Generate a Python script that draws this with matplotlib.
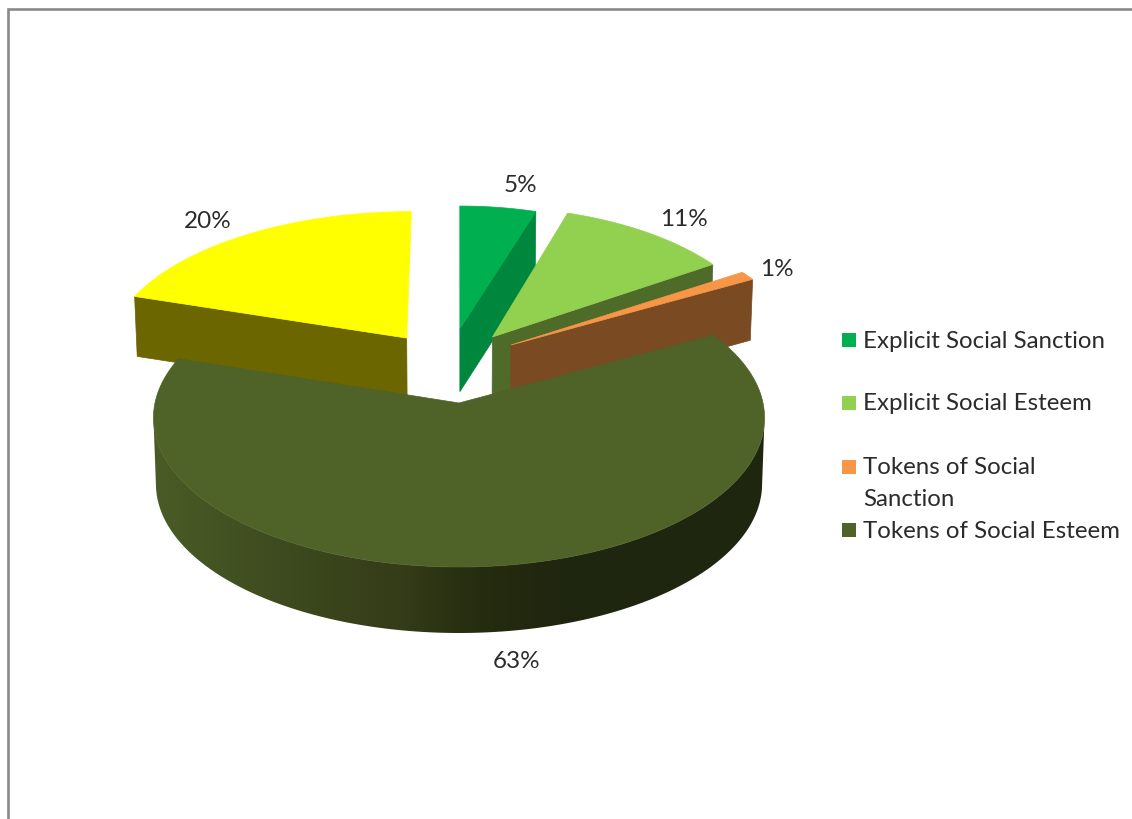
import numpy as np
import matplotlib
matplotlib.use("Agg")
import matplotlib.pyplot as plt
from matplotlib.patches import Polygon

legend_lines = ["Explicit Social Sanction", "Explicit Social Esteem", "Tokens of Social\nSanction", "Tokens of Social Esteem"]
values = [5, 11, 1, 63, 20]

top_colors = ["#00B050", "#92D050", "#F79646", "#4F6228", "#FFFF00"]
wall_colors = ["#00873E", "#4F6B29", "#7A4A22", "#4F6228", "#6B6600"]
label_pos = [(520, 186), (684, 220), (777, 269), (517, 662), (208, 221)]

# explode offset and radius scale of each slice on the pie's plane
offsets = [(0.003, 0.53), (0.115, 0.468), (0.178, 0.409), (0.0, 0.0), (-0.18, 0.46)]
scales = [(0.93, 1.01), (0.955, 1.06), (1.0, 1.05), (1.0, 1.0), (1.02, 1.03)]
depths = [63, 60, 61, 66, 60]
wall_edge = [1, 1, 1, None, 0]   # which radial edge shows its side
draw_order = [0, 1, 2, 4, 3]

# simple perspective for the tilted disc
cx, cy = 459, 403
k = 0.1
A = 304
B = 147.6
shrink = 0.008


def project(u, v):
    d = 1 + k * v
    return cx + A * u / d, cy - B * v / d


def lower(x, y, depth):
    return cx + (x - cx) * (1 - shrink), y + depth


def rim_gradient(x):
    xs = [152, 300, 400, 480, 560, 765]
    r = np.interp(x, xs, [74, 60, 52, 38, 32, 30])
    g = np.interp(x, xs, [92, 72, 60, 44, 38, 38])
    b = np.interp(x, xs, [38, 30, 24, 16, 15, 16])
    return np.dstack([r, g, b])[0] / 255


fig = plt.figure(figsize=(11.32, 8.19), dpi=100)
ax = fig.add_axes([0, 0, 1, 1])

# frame of the chart area
ax.plot([7.5, 7.5, 1132], [819, 9, 9], color="#8a8a8a", lw=1.9, solid_joinstyle="miter")

ends = np.cumsum(values) * 3.6
starts = ends - np.array(values) * 3.6

for i in draw_order:
    t = np.radians(np.linspace(starts[i], ends[i], 400))
    ou, ov = offsets[i]
    su, sv = scales[i]
    arc_x, arc_y = project(ou + su * np.sin(t), ov + sv * np.cos(t))
    ap_x, ap_y = project(ou, ov)

    if wall_edge[i] is None:
        # outer rim, shaded from left to right; only the part facing the viewer
        front = np.cos(t) <= -k
        low_x, low_y = lower(arc_x[front], arc_y[front], depths[i])
        rim = Polygon(np.c_[np.r_[arc_x[front], low_x[::-1]], np.r_[arc_y[front], low_y[::-1]]],
                      closed=True, fc="none", ec="none", transform=ax.transData)
        ax.add_patch(rim)
        xs = np.arange(140, 780)
        shade = np.repeat(rim_gradient(xs)[np.newaxis, :, :], 8, axis=0)
        img = ax.imshow(shade, extent=[140, 780, 660, 300],
                        aspect="auto", interpolation="nearest", zorder=2)
        img.set_clip_path(rim)
    else:
        e = -1 if wall_edge[i] == 1 else 0
        ox, oy = arc_x[e], arc_y[e]
        b1 = lower(ox, oy, depths[i])
        b2 = lower(ap_x, ap_y, depths[i])
        ax.fill([ox, ap_x, b2[0], b1[0]], [oy, ap_y, b2[1], b1[1]],
                color=wall_colors[i], lw=0.5, zorder=2)

    ax.fill(np.r_[ap_x, arc_x], np.r_[ap_y, arc_y], color=top_colors[i], lw=0.5, zorder=2)

for v, (x, y) in zip(values, label_pos):
    ax.text(x, y, f"{v}%", ha="center", va="center", fontsize=17.5, color="#2b2b2b",
            family="Lato", zorder=3)

# legend, placed by hand because of the wrapped entry
key_y = [339.5, 402.5, 466.5, 529.5]
text_y = [341, 404, 468, 531]
for i in range(4):
    ax.fill([842, 856, 856, 842], [key_y[i] - 7, key_y[i] - 7, key_y[i] + 7, key_y[i] + 7],
            color=top_colors[i], lw=0, zorder=3)
    ax.text(863, text_y[i], legend_lines[i].split("\n")[0], ha="left", va="center", fontsize=17.3,
            color="#2b2b2b", family="Lato", zorder=3)
ax.text(863, 500, legend_lines[2].split("\n")[1], ha="left", va="center", fontsize=17.3,
        color="#2b2b2b", family="Lato", zorder=3)

ax.set_xlim(0, 1132)
ax.set_ylim(819, 0)
ax.axis("off")

fig.savefig("out.png", dpi=100)
